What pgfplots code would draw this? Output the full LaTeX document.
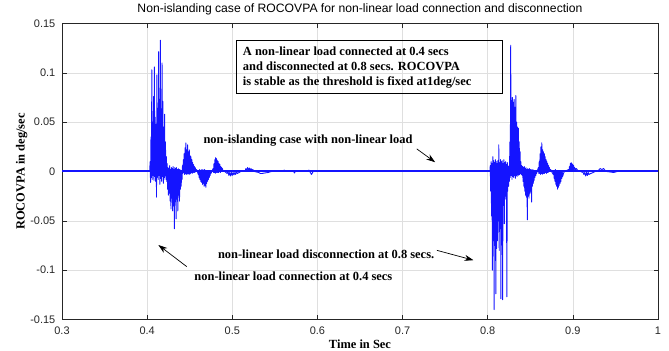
\documentclass[border=0pt]{standalone}
\usepackage{fontspec}
\setmainfont{Liberation Serif}
\setsansfont{Liberation Sans}
\usepackage{pgfplots}
\pgfplotsset{compat=1.18}
\usetikzlibrary{arrows.meta}
\definecolor{axgray}{RGB}{38,38,38}
\definecolor{gridgray}{RGB}{223,223,223}
\definecolor{sigblue}{RGB}{20,20,255}
\begin{document}
\begin{tikzpicture}
\path[use as bounding box] (-62bp,-31.5bp) rectangle (607bp,319.5bp);
\begin{axis}[
  at={(0,0)}, anchor=south west,
  width=596bp, height=296bp, scale only axis,
  xmin=0.3, xmax=1, ymin=-0.15, ymax=0.15,
  xtick={0.3,0.4,0.5,0.6,0.7,0.8,0.9,1},
  xticklabels={0.3,0.4,0.5,0.6,0.7,0.8,0.9,1},
  ytick={-0.15,-0.1,-0.05,0,0.05,0.1,0.15},
  yticklabels={-0.15,-0.1,-0.05,0,0.05,0.1,0.15},
  tick label style={font=\sffamily\fontsize{11}{12}\selectfont, text=axgray},
  xticklabel style={anchor=base, inner sep=0pt, yshift=-14.5bp},
  yticklabel style={anchor=east, inner sep=0pt, xshift=-6.5bp},
  tick align=inside, xtick pos=both, ytick pos=both,
  major tick length=4.5bp,
  every tick/.style={axgray, line width=0.6bp},
  axis line style={axgray, line width=0.8bp},
  grid=major,
  major grid style={gridgray, line width=0.6bp},
  title={Non-islanding case of ROCOVPA for non-linear load connection and disconnection},
  title style={font=\sffamily\fontsize{12.2}{14}\selectfont, at={(axis description cs:0.5,1)}, anchor=south, inner sep=0pt, yshift=2bp},
  xlabel={Time in Sec},
  xlabel style={font=\bfseries\fontsize{12.5}{15}\selectfont, at={(axis description cs:0.5,0)}, anchor=base, inner sep=0pt, yshift=-29bp},
  ylabel={ROCOVPA in deg/sec},
  ylabel style={font=\bfseries\fontsize{12.5}{15}\selectfont, at={(axis description cs:-0.0676,0.5)}, anchor=center, inner sep=0pt},
  clip=true,
]
% steady-state level of the signal
\addplot[color=sigblue, line width=2bp, no markers] coordinates {(0.3,0) (1,0)};
\addplot[color=sigblue, line width=0.9bp, line join=round, no markers] table {
x y
0.3000 0
0.4030 0
0.4035 0.010
0.4040 -0.011
0.4045 0.035
0.4050 -0.006
0.4055 0.103
0.4060 -0.008
0.4065 0.050
0.4070 -0.004
0.4075 0.076
0.4080 -0.009
0.4085 0.106
0.4090 -0.005
0.4095 0.055
0.4100 -0.010
0.4105 0.048
0.4110 -0.026
0.4115 0.098
0.4120 -0.006
0.4125 0.060
0.4130 -0.008
0.4135 0.1215
0.4140 -0.004
0.4145 0.065
0.4150 -0.013
0.4155 0.133
0.4160 -0.007
0.4165 0.058
0.4170 -0.010
0.4175 0.110
0.4180 -0.005
0.4185 0.071
0.4190 -0.012
0.4195 0.045
0.4200 -0.006
0.4205 0.058
0.4210 -0.008
0.4215 0.030
0.4220 -0.004
0.4225 0.015
0.4230 -0.010
0.4235 0.008
0.4240 -0.018
0.4245 0.004
0.4250 -0.024
0.4255 0.003
0.4260 -0.022
0.4265 0.006
0.4270 -0.030
0.4275 0.002
0.4280 -0.038
0.4285 0.004
0.4290 -0.027
0.4295 0.003
0.4300 -0.040
0.4305 0.005
0.4310 -0.035
0.4315 0.002
0.4320 -0.058
0.4325 0.004
0.4330 -0.030
0.4335 0.003
0.4340 -0.048
0.4345 0.004
0.4350 -0.028
0.4355 0.002
0.4360 -0.040
0.4365 0.003
0.4370 -0.024
0.4375 0.002
0.4380 -0.030
0.4385 0.002
0.4390 -0.018
0.4395 0.001
0.4400 -0.015
0.4405 0.001
0.4410 -0.008
0.4415 0.006
0.4420 -0.002
0.4425 0.012
0.4430 -0.001
0.4435 0.018
0.4440 -0.003
0.4445 0.024
0.4450 -0.002
0.4455 0.029
0.4460 -0.003
0.4465 0.022
0.4470 -0.002
0.4475 0.027
0.4480 -0.003
0.4485 0.020
0.4490 -0.002
0.4495 0.022
0.4500 -0.003
0.4505 0.016
0.4510 -0.002
0.4515 0.015
0.4520 -0.001
0.4525 0.012
0.4530 -0.002
0.4535 0.009
0.4540 -0.001
0.4545 0.007
0.4550 -0.001
0.4555 0.005
0.4560 -0.001
0.4565 0.004
0.4570 0.000
0.4580 0.002
0.4590 0.000
0.4600 -0.003
0.4605 0.001
0.4610 -0.006
0.4615 0.002
0.4620 -0.008
0.4625 0.001
0.4630 -0.010
0.4635 0.002
0.4640 -0.011
0.4645 0.001
0.4650 -0.013
0.4655 0.002
0.4660 -0.012
0.4665 0.001
0.4670 -0.015
0.4675 0.002
0.4680 -0.014
0.4685 0.001
0.4690 -0.016
0.4695 0.001
0.4700 -0.012
0.4705 0.001
0.4710 -0.010
0.4715 0.001
0.4720 -0.008
0.4725 0.000
0.4730 -0.006
0.4735 0.001
0.4740 -0.004
0.4745 0.000
0.4750 -0.002
0.4760 0.000
0.4775 0.003
0.4780 -0.001
0.4785 0.008
0.4790 -0.001
0.4795 0.012
0.4800 -0.002
0.4805 0.014
0.4810 -0.001
0.4815 0.013
0.4820 -0.001
0.4825 0.011
0.4830 -0.001
0.4835 0.010
0.4840 -0.001
0.4845 0.008
0.4850 0.000
0.4855 0.007
0.4860 -0.001
0.4865 0.005
0.4870 0.000
0.4875 0.004
0.4880 0.000
0.4885 0.003
0.4890 0.000
0.4900 0.001
0.4910 0.000
0.4940 -0.002
0.4950 0.000
0.4960 -0.004
0.4970 -0.001
0.4980 -0.0045
0.4990 -0.001
0.5000 -0.004
0.5010 -0.001
0.5020 -0.0035
0.5030 -0.001
0.5040 -0.003
0.5050 0.000
0.5060 -0.002
0.5080 -0.001
0.5100 0.000
0.5150 0.000
0.5160 0.003
0.5170 0.001
0.5180 0.004
0.5190 0.001
0.5200 0.0035
0.5210 0.001
0.5220 0.003
0.5230 0.001
0.5240 0.002
0.5260 0.000
0.5310 -0.001
0.5330 -0.002
0.5350 -0.002
0.5380 -0.0015
0.5420 -0.001
0.5460 0.000
0.5600 0.000
0.5610 0.0015
0.5620 0.000
0.5720 0.000
0.5730 -0.0015
0.5740 0.000
0.5890 0.000
0.5900 0.0015
0.5910 0.000
0.5930 -0.003
0.5950 0.000
0.8025 0.000
0.8030 0.006
0.8035 -0.020
0.8040 0.010
0.8045 -0.045
0.8050 0.008
0.8055 -0.100
0.8060 0.015
0.8065 -0.070
0.8070 0.011
0.8075 -0.140
0.8080 0.009
0.8085 -0.075
0.8090 0.012
0.8095 -0.124
0.8100 0.010
0.8105 -0.078
0.8110 0.008
0.8115 -0.070
0.8120 0.011
0.8125 -0.050
0.8130 0.027
0.8135 -0.080
0.8140 0.009
0.8145 -0.040
0.8150 0.012
0.8155 -0.129
0.8160 0.010
0.8165 -0.035
0.8170 0.011
0.8175 -0.130
0.8180 0.008
0.8185 -0.030
0.8190 0.012
0.8195 -0.053
0.8200 0.009
0.8205 -0.028
0.8210 0.010
0.8215 -0.025
0.8220 0.007
0.8225 -0.127
0.8230 0.009
0.8235 -0.020
0.8240 0.005
0.8245 -0.015
0.8250 0.006
0.8255 -0.010
0.8260 0.030
0.8265 -0.006
0.8270 0.128
0.8275 -0.004
0.8280 0.072
0.8285 -0.008
0.8290 0.075
0.8295 -0.005
0.8300 0.070
0.8305 -0.006
0.8310 0.073
0.8315 -0.004
0.8320 0.065
0.8325 -0.007
0.8330 0.077
0.8335 -0.004
0.8340 0.050
0.8345 -0.005
0.8350 0.045
0.8355 -0.003
0.8360 0.044
0.8365 -0.004
0.8370 0.030
0.8375 -0.003
0.8380 0.020
0.8385 -0.002
0.8390 0.010
0.8395 -0.003
0.8400 0.006
0.8405 -0.004
0.8410 0.005
0.8415 -0.010
0.8420 0.004
0.8425 -0.015
0.8430 0.005
0.8435 -0.020
0.8440 0.003
0.8445 -0.024
0.8450 0.004
0.8455 -0.026
0.8460 0.002
0.8465 -0.049
0.8470 0.003
0.8475 -0.025
0.8480 0.002
0.8485 -0.027
0.8490 0.003
0.8495 -0.022
0.8500 0.002
0.8505 -0.020
0.8510 0.002
0.8515 -0.031
0.8520 0.001
0.8525 -0.015
0.8530 0.002
0.8535 -0.012
0.8540 0.001
0.8545 -0.009
0.8550 0.001
0.8555 -0.006
0.8560 0.001
0.8565 -0.004
0.8570 0.000
0.8575 -0.002
0.8580 0.000
0.8595 0.004
0.8600 -0.002
0.8605 0.010
0.8610 -0.002
0.8615 0.018
0.8620 -0.003
0.8625 0.025
0.8630 -0.002
0.8635 0.029
0.8640 -0.003
0.8645 0.022
0.8650 -0.002
0.8655 0.020
0.8660 -0.002
0.8665 0.018
0.8670 -0.002
0.8675 0.015
0.8680 -0.001
0.8685 0.012
0.8690 -0.002
0.8695 0.010
0.8700 -0.001
0.8705 0.008
0.8710 -0.001
0.8715 0.006
0.8720 0.000
0.8725 0.004
0.8730 0.000
0.8740 0.002
0.8750 0.000
0.8770 -0.003
0.8775 0.001
0.8780 -0.007
0.8785 0.001
0.8790 -0.010
0.8795 0.002
0.8800 -0.013
0.8805 0.001
0.8810 -0.015
0.8815 0.001
0.8820 -0.018
0.8825 0.001
0.8830 -0.016
0.8835 0.001
0.8840 -0.014
0.8845 0.001
0.8850 -0.012
0.8855 0.000
0.8860 -0.010
0.8865 0.001
0.8870 -0.007
0.8875 0.000
0.8880 -0.005
0.8890 -0.002
0.8900 0.000
0.8950 0.002
0.8955 0.000
0.8960 0.005
0.8965 0.000
0.8970 0.008
0.8975 0.001
0.8980 0.009
0.8985 0.000
0.8990 0.008
0.8995 0.001
0.9000 0.007
0.9005 0.000
0.9010 0.006
0.9015 0.001
0.9020 0.004
0.9030 0.002
0.9040 0.003
0.9060 0.001
0.9090 0.000
0.9120 -0.001
0.9130 -0.003
0.9140 -0.001
0.9150 -0.0045
0.9160 -0.001
0.9170 -0.004
0.9180 -0.001
0.9190 -0.003
0.9210 -0.002
0.9240 -0.001
0.9260 0.000
0.9300 0.001
0.9320 0.003
0.9340 0.002
0.9360 0.003
0.9380 0.001
0.9400 0.000
0.9480 -0.001
0.9520 0.000
0.9600 0.001
0.9640 0.000
1.0000 0.000
};
\draw[black, line width=0.8bp] (axis cs:0.5045,0.1324) rectangle (axis cs:0.8170,0.0789);
\node[anchor=west, align=left, inner sep=0pt, font=\bfseries\fontsize{12.5}{15}\selectfont]
  at (axis cs:0.5123,0.1054) {A non-linear load connected at 0.4 secs\\and disconnected at 0.8 secs. ROCOVPA\\is stable as the threshold is fixed at1deg/sec};
\node[inner sep=0pt, font=\bfseries\fontsize{12.5}{15}\selectfont] at (axis cs:0.589,0.0312) {non-islanding case with non-linear load};
\draw[-{Stealth[length=9bp,width=6bp]}, line width=0.7bp] (axis cs:0.7167,0.0229) -- (axis cs:0.7383,0.0094);
\node[inner sep=0pt, font=\bfseries\fontsize{12.5}{15}\selectfont] at (axis cs:0.6102,-0.0836) {non-linear load disconnection at 0.8 secs.};
\draw[-{Stealth[length=9bp,width=6bp]}, line width=0.7bp] (axis cs:0.7403,-0.0799) -- (axis cs:0.7833,-0.0899);
\node[inner sep=0pt, font=\bfseries\fontsize{12.5}{15}\selectfont] at (axis cs:0.5718,-0.1057) {non-linear load connection at 0.4 secs};
\draw[-{Stealth[length=9bp,width=6bp]}, line width=0.7bp] (axis cs:0.4465,-0.0964) -- (axis cs:0.4132,-0.0745);
\end{axis}
\end{tikzpicture}
\end{document}
